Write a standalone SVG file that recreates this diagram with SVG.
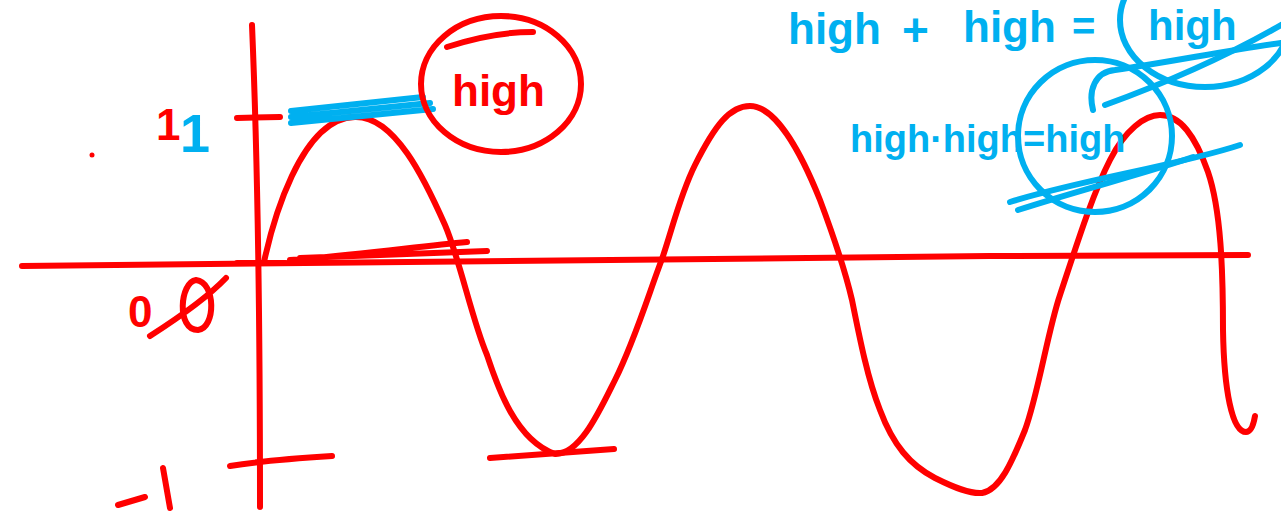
<svg xmlns="http://www.w3.org/2000/svg" width="1281" height="519" viewBox="0 0 1281 519">
<style>
.r{fill:none;stroke:#ff0000;stroke-width:6;stroke-linecap:round;stroke-linejoin:round}
.b{fill:none;stroke:#00b0f0;stroke-width:6;stroke-linecap:round;stroke-linejoin:round}
.tr{fill:#ff0000;font-family:"Liberation Sans",Arial,sans-serif;font-weight:bold}
.tb{fill:#00b0f0;font-family:"Liberation Sans",Arial,sans-serif;font-weight:bold}
</style>
<rect width="1281" height="519" fill="#ffffff"/>
<g id="axes">
<path class="r" d="M252,25 C256,120 260,260 260,507"/>
<path class="r" d="M22,266 C300,262 800,256 1248,255"/>
<path class="r" d="M237,263 L285,263" stroke-width="10"/>
<path class="r" d="M290,260 C360,255 420,246 467,242 M300,258 L487,251"/>
<path class="r" d="M237,118 L280,117"/>
<path class="r" d="M230,466 C260,461 300,458 332,456"/>
<path class="r" d="M490,458 L614,449"/>
<circle cx="92" cy="155" r="2.5" fill="#ff0000"/>
</g>
<g id="wave">
<path class="r" d="M264,262 C272,225 300,118 355,117 C395,116 425,180 445,225 C460,260 472,320 487,355 C497,385 515,440 555,454 C580,455 600,410 615,380 C635,340 650,290 662,259 C672,230 680,195 695,165 C715,125 730,106 750,106 C775,106 800,150 820,200 C835,240 845,270 852,300 C860,340 868,380 880,410 C893,445 910,465 935,478 C955,488 970,494 982,493 C1000,490 1012,462 1025,430 C1038,395 1048,330 1060,295 C1075,250 1092,195 1110,160 C1125,130 1145,115 1160,115 C1180,115 1195,135 1208,172 C1221,210 1223,270 1223,330 C1224,390 1232,432 1246,432 C1252,432 1254,422 1255,416"/>
</g>
<g id="labels">
<text class="tr" x="156" y="140" font-size="44">1</text>
<text class="tb" x="180" y="152" font-size="54">1</text>
<text class="tr" x="128" y="327" font-size="44">0</text>
<path class="r" d="M196,280 C180,282 176,330 198,330 C216,328 216,282 196,280 Z M150,336 C175,320 205,300 226,278" stroke-width="8"/>
<path class="r" d="M118,505 L145,497 M163,468 L170,508" stroke-width="7"/>
</g>
<g id="high-node">
<path class="b" d="M291,111 L423,97 M291,117 L430,103 M291,123 L433,109" stroke-width="7"/>
<ellipse class="r" cx="501" cy="84" rx="80" ry="68"/>
<path class="r" d="M447,47 C480,36 510,32 533,32" stroke-width="3"/>
<text class="tr" x="452" y="106" font-size="44">high</text>
</g>
<g id="sum-note">
<text class="tb" x="788" y="44" font-size="44">high</text>
<text class="tb" x="902" y="46" font-size="46">+</text>
<text class="tb" x="963" y="42" font-size="44">high</text>
<text class="tb" x="1072" y="40" font-size="40">=</text>
<text class="tb" x="1148" y="40" font-size="42">high</text>
<ellipse class="b" cx="1205" cy="20" rx="85" ry="67"/>
<path class="b" d="M1105,105 C1160,85 1220,60 1281,25"/>
<path class="b" d="M1093,110 C1088,90 1095,72 1115,70 C1170,62 1230,50 1281,43"/>
</g>
<g id="product-note">
<text class="tb" x="850" y="152" font-size="38">high·high=high</text>
<ellipse class="b" cx="1095" cy="136" rx="77" ry="76"/>
<path class="b" d="M1010,202 C1080,180 1180,165 1240,145"/>
<path class="b" d="M1018,210 C1080,190 1150,172 1193,157"/>
</g>
</svg>
